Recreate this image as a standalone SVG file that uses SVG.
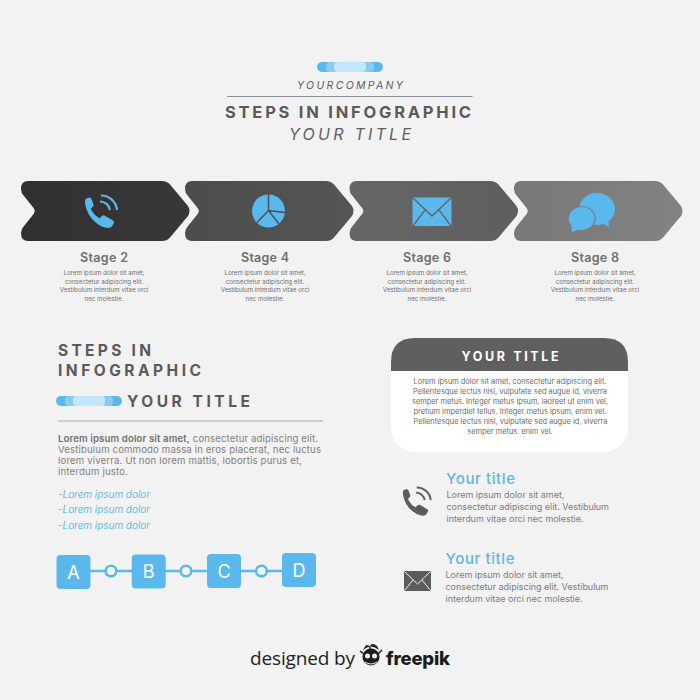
<svg xmlns="http://www.w3.org/2000/svg" width="700" height="700" viewBox="0 0 700 700">
<style>
text{font-family:"Inter","Open Sans","Liberation Sans",sans-serif}
.c{text-anchor:middle}
.h{font-weight:700;fill:#5a5a5a;letter-spacing:2px}
.it{font-style:italic;fill:#5f5f5f}
.st{font-size:12.500px;font-weight:600;fill:#6e6e6e;text-anchor:middle}
.lo{font-size:6.200px;fill:#6e6e6e;text-anchor:middle}
.bd{font-size:9.600px;fill:#808080}
.li{font-size:10px;font-style:italic;fill:#6ab9e2}
.cd{font-size:7.400px;fill:#6a6a6a;text-anchor:middle}
.yt{font-size:15px;font-weight:500;fill:#5fb6e2}
.sm{font-size:9px;fill:#7c7c7c}
.ab{font-size:18px;fill:#fff;text-anchor:middle}
.box{fill:#5ab8ec}
.ic{fill:#5ab8ec}
</style>
<defs>
<linearGradient id="g1" x1="0" x2="1"><stop offset="0" stop-color="#303030"/><stop offset="1" stop-color="#383838"/></linearGradient>
<linearGradient id="g2" x1="0" x2="1"><stop offset="0" stop-color="#4c4c4c"/><stop offset="1" stop-color="#555"/></linearGradient>
<linearGradient id="g3" x1="0" x2="1"><stop offset="0" stop-color="#666"/><stop offset="1" stop-color="#5e5e5e"/></linearGradient>
<linearGradient id="g4" x1="0" x2="1"><stop offset="0" stop-color="#787878"/><stop offset="1" stop-color="#828282"/></linearGradient>
<path id="chev" d="M7,0H141Q146,0 149,3.500L167,25Q170,30 167,35L149,56.500Q146,60 141,60H7Q0,60 0,52Q0,48 3,45L13,32.500Q14.500,30 13,27.500L3,15Q0,12 0,8Q0,0 7,0Z"/>
<g id="phone">
<path d="M1,6Q1,3.500 3.500,3L5.500,2.500Q7,2.500 7.500,4L9.500,9.500Q10,11 8.500,12L7,13.500Q7,14 8,16Q11,21 15,23Q16,23.500 16.500,22.500L18,21Q19,20 20.500,20.500L29,25.500Q30.500,26.500 30,28L28.500,30.500Q27,33 24,33Q16,32.500 8,24Q1,15 1,6Z"/>
<path d="M16,6.500A10,10 0 0 1 26,15M17,0.500A16,16 0 0 1 33,15" fill="none" stroke-width="2.200" style="stroke:inherit"/>
</g>
<g id="pill">
<rect width="66" height="10" rx="5" fill="#5ab8ec"/>
<rect x="9" width="48" height="10" rx="4" fill="#8accf0"/>
<rect x="17" width="32" height="10" rx="4" fill="#c2e7fb"/>
</g>
</defs>
<rect width="700" height="700" fill="#f2f2f2"/>

<g id="header">
<use href="#pill" x="317" y="62"/>
<text x="350" y="89" class="c it" font-size="10.500" textLength="106">YOURCOMPANY</text>
<line x1="227" y1="96.500" x2="472.500" y2="96.500" stroke="#8b9297" stroke-width="1"/>
<text x="349" y="118" class="c h" font-size="16.500" textLength="248">STEPS IN INFOGRAPHIC</text>
<text x="350" y="140" class="c it" font-size="16" textLength="122">YOUR TITLE</text>
</g>

<g id="stage2">
<use href="#chev" x="21" y="181" fill="url(#g1)"/>
<use href="#phone" x="84" y="195" class="ic" stroke="#5ab8ec" stroke-width="0"/>
<text x="104" y="262" class="st" textLength="48">Stage 2</text>
<text class="lo"><tspan x="104" y="275">Lorem ipsum dolor sit amet,</tspan><tspan x="104" y="283.500">consectetur adipiscing elit.</tspan><tspan x="104" y="292">Vestibulum interdum vitae orci</tspan><tspan x="104" y="300.500">nec molestie.</tspan></text>
</g>
<g id="stage4">
<use href="#chev" x="185" y="181" fill="url(#g2)"/>
<circle cx="268.500" cy="211" r="16.500" class="ic"/>
<path d="M268.500,194V210.500L285,212.500M268.500,210.500L279,224M268.500,210.500L257,222.500" fill="none" stroke="#505050" stroke-width="1.500"/>
<text x="265" y="262" class="st" textLength="48">Stage 4</text>
<text class="lo"><tspan x="265" y="275">Lorem ipsum dolor sit amet,</tspan><tspan x="265" y="283.500">consectetur adipiscing elit.</tspan><tspan x="265" y="292">Vestibulum interdum vitae orci</tspan><tspan x="265" y="300.500">nec molestie.</tspan></text>
</g>
<g id="stage6">
<use href="#chev" x="349.500" y="181" fill="url(#g3)"/>
<rect x="412.500" y="197.500" width="39" height="28.500" rx="1" class="ic"/>
<path d="M413,198L432,216L451,198M413,226L425,210M451,226L439,210" fill="none" stroke="#626262" stroke-width="1.300"/>
<text x="427" y="262" class="st" textLength="48">Stage 6</text>
<text class="lo"><tspan x="427" y="275">Lorem ipsum dolor sit amet,</tspan><tspan x="427" y="283.500">consectetur adipiscing elit.</tspan><tspan x="427" y="292">Vestibulum interdum vitae orci</tspan><tspan x="427" y="300.500">nec molestie.</tspan></text>
</g>
<g id="stage8">
<use href="#chev" x="514" y="181" fill="url(#g4)"/>
<ellipse cx="597" cy="209" rx="18" ry="16" class="ic"/>
<path d="M600,222L609,227L608,215Z" class="ic"/>
<ellipse cx="581.700" cy="218.500" rx="13.500" ry="12" class="ic" stroke="#7c7c7c" stroke-width="1.200"/>
<path d="M571,224L572,232L581,229Z" class="ic"/>
<text x="595" y="262" class="st" textLength="48">Stage 8</text>
<text class="lo"><tspan x="595" y="275">Lorem ipsum dolor sit amet,</tspan><tspan x="595" y="283.500">consectetur adipiscing elit.</tspan><tspan x="595" y="292">Vestibulum interdum vitae orci</tspan><tspan x="595" y="300.500">nec molestie.</tspan></text>
</g>

<g id="left-panel">
<text x="58" y="356" class="h" font-size="15.500" textLength="95">STEPS IN</text>
<text x="58" y="376" class="h" font-size="15.500" textLength="145">INFOGRAPHIC</text>
<use href="#pill" x="56" y="396"/>
<text x="127" y="407" class="h" font-size="15.500" textLength="125">YOUR TITLE</text>
<line x1="58" y1="421" x2="323" y2="421" stroke="#aaa" stroke-width="1.200"/>
<text class="bd"><tspan x="58" y="441.500" textLength="260"><tspan font-weight="600" fill="#707070">Lorem ipsum dolor sit amet,</tspan> consectetur adipiscing elit.</tspan><tspan x="58" y="453" textLength="263">Vestibulum commodo massa in eros placerat, nec luctus</tspan><tspan x="58" y="464" textLength="244">lorem viverra. Ut non lorem mattis, lobortis purus et,</tspan><tspan x="58" y="475" textLength="70">interdum justo.</tspan></text>
<text x="58" y="498" class="li" textLength="92">-Lorem ipsum dolor</text>
<text x="58" y="513" class="li" textLength="92">-Lorem ipsum dolor</text>
<text x="58" y="528.500" class="li" textLength="92">-Lorem ipsum dolor</text>
</g>

<g id="connectors" fill="none" stroke="#5ab8ec" stroke-width="2.500">
<line x1="90" y1="571" x2="105" y2="571"/>
<line x1="117" y1="571" x2="132" y2="571"/>
<line x1="165" y1="571" x2="180" y2="571"/>
<line x1="192" y1="571" x2="207" y2="571"/>
<line x1="241" y1="571" x2="256" y2="571"/>
<line x1="267" y1="571" x2="282" y2="571"/>
</g>
<g id="node-a"><rect x="56.500" y="555" width="34" height="34" rx="4" class="box"/><text x="73.500" y="578.500" class="ab">A</text></g>
<g id="dot-1"><circle cx="111" cy="571" r="5.300" fill="#eef8fd" stroke="#5ab8ec" stroke-width="2.500"/></g>
<g id="node-b"><rect x="131.700" y="554.500" width="34" height="34" rx="4" class="box"/><text x="148.700" y="578" class="ab">B</text></g>
<g id="dot-2"><circle cx="186" cy="571" r="5.300" fill="#eef8fd" stroke="#5ab8ec" stroke-width="2.500"/></g>
<g id="node-c"><rect x="207" y="554" width="34" height="34" rx="4" class="box"/><text x="224" y="577.500" class="ab">C</text></g>
<g id="dot-3"><circle cx="261.500" cy="571" r="5.300" fill="#eef8fd" stroke="#5ab8ec" stroke-width="2.500"/></g>
<g id="node-d"><rect x="282" y="553" width="34" height="34" rx="4" class="box"/><text x="299" y="577" class="ab">D</text></g>

<g id="card">
<rect x="391" y="338" width="237" height="114" rx="24" fill="#fff"/>
<path d="M391,371V362Q391,338 415,338H604Q628,338 628,362V371Z" fill="#5f5f5f"/>
<text x="510" y="361" class="c" font-size="12.500" font-weight="700" fill="#fff" textLength="97">YOUR TITLE</text>
<text class="cd"><tspan x="510" y="384">Lorem ipsum dolor sit amet, consectetur adipiscing elit.</tspan><tspan x="510" y="394">Pellentesque lectus nisl, vulputate sed augue id, viverra</tspan><tspan x="510" y="404">semper metus. Integer metus ipsum, laoreet ut enim vel,</tspan><tspan x="510" y="414">pretium imperdiet tellus. Integer metus ipsum, enim vel.</tspan><tspan x="510.500" y="424">Pellentesque lectus nisl, vulputate sed augue id, viverra</tspan><tspan x="510" y="433.500">semper metus. enim vel.</tspan></text>
</g>

<g id="item-phone">
<use href="#phone" transform="translate(402,487) scale(.87)" fill="#5c5c5c" stroke="#5c5c5c" stroke-width="0"/>
<text x="446" y="483.500" class="yt" textLength="69">Your title</text>
<text class="sm"><tspan x="446.500" y="498" textLength="118">Lorem ipsum dolor sit amet,</tspan><tspan x="446.500" y="510" textLength="162.500">consectetur adipiscing elit. Vestibulum</tspan><tspan x="446.500" y="522" textLength="137">interdum vitae orci nec molestie.</tspan></text>
</g>
<g id="item-mail">
<rect x="404" y="571" width="27" height="20" rx="1" fill="#5c5c5c"/>
<path d="M404.500,571.500L417.500,584L430.500,571.500M404.500,590.500L413,580M430.500,590.500L422,580" fill="none" stroke="#f2f2f2" stroke-width="1"/>
<text x="445.500" y="563.500" class="yt" textLength="69">Your title</text>
<text class="sm"><tspan x="445.500" y="578" textLength="118">Lorem ipsum dolor sit amet,</tspan><tspan x="445.500" y="590" textLength="163">consectetur adipiscing elit. Vestibulum</tspan><tspan x="445.500" y="602" textLength="137">interdum vitae orci nec molestie.</tspan></text>
</g>

<g id="footer">
<text x="250" y="665" font-size="19" fill="#222" textLength="105" style="font-family:'Open Sans',sans-serif">designed by</text>
<circle cx="371" cy="657" r="8.500" fill="#1c1c1c"/>
<path d="M363,650Q371,643 379,650L377,646Q372,642 370,646L366,645Z" fill="#1c1c1c"/>
<path d="M360,651L364,654M382,650L378,654M370,647L370,650" stroke="#1c1c1c" stroke-width="1.500"/>
<circle cx="367.500" cy="656" r="2.500" fill="#f2f2f2"/><circle cx="374.500" cy="656" r="2.500" fill="#f2f2f2"/>
<path d="M365,662Q371,666 377,662" stroke="#f2f2f2" stroke-width="1" fill="none"/>
<text x="386" y="665" font-size="18.500" font-weight="800" fill="#1c1c1c" textLength="64">freepik</text>
</g>
</svg>
